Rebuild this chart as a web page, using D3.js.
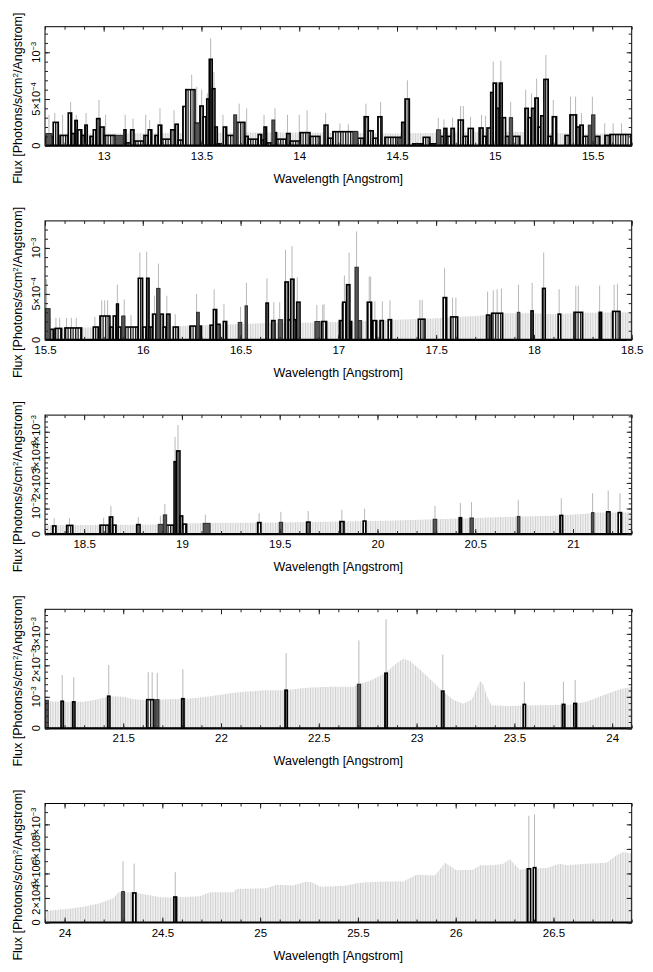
<!DOCTYPE html>
<html>
<head>
<meta charset="utf-8">
<script src="https://cdn.jsdelivr.net/npm/d3@7"></script>
<style>
body { margin: 0; background: #fff; }
svg { display: block; font-family: "Liberation Sans", Arial, Helvetica, sans-serif; }
</style>
</head>
<body>
<div id="chart"></div>
<script>
// flux values are in units of 1e-4 photons/s/cm2/Angstrom
// steps: [bin start wavelength, flux], each runs up to the next start
// dark: second spectrum [from, to, flux]; err: [wavelength, upper error]; env: upper-limit envelope

// ---- panel 1 (12.7 - 15.7)
const p1Env = [[12.7,1.3],[13.0,1.3],[13.5,1.35],[13.75,1.4],[14.0,1.4],[14.5,1.3],[14.8,1.4],[15.1,1.5],[15.4,1.3],[15.7,1.3]];
const p1Steps = [[12.700,1.0],[12.742,2.5],[12.768,0],[12.777,1.1],[12.819,3.5],[12.836,1.3],[12.853,2.7],[12.865,1.7],[12.888,1.1],[12.904,2.2],[12.916,0],[12.930,1.0],[12.947,1.7],[12.964,2.9],[12.981,2.0],[13.002,1.1],[13.058,0],[13.104,1.7],[13.114,0.3],[13.138,1.7],[13.155,0.5],[13.206,1.1],[13.228,1.7],[13.246,0],[13.262,1.1],[13.279,2.2],[13.297,0.7],[13.343,1.7],[13.365,2.3],[13.381,0.6],[13.405,4.2],[13.42,6.0],[13.467,2.4],[13.492,4.25],[13.509,3.1],[13.527,5.0],[13.540,9.25],[13.555,6.1],[13.569,2.0],[13.581,0.2],[13.595,0],[13.612,2.0],[13.629,1.1],[13.68,2.5],[13.722,1.0],[13.739,0.7],[13.79,1.2],[13.808,0.6],[13.82,2.0],[13.833,0.3],[13.867,1.4],[13.884,0.7],[13.936,1.3],[13.953,0.5],[14.004,1.4],[14.055,1.0],[14.106,0],[14.127,2.2],[14.147,0.8],[14.172,1.5],[14.295,0.8],[14.332,3.1],[14.353,1.6],[14.378,0.8],[14.402,3.1],[14.423,0],[14.438,0.9],[14.524,2.5],[14.541,5.0],[14.563,0],[14.58,0.2],[14.634,0.9],[14.668,0.2],[14.702,0],[14.723,1.0],[14.740,1.85],[14.755,1.0],[14.776,1.85],[14.793,0],[14.813,2.75],[14.839,1.0],[14.864,1.85],[14.890,0],[14.920,1.9],[14.94,1.0],[14.96,1.9],[14.979,5.7],[14.992,6.7],[15.009,4.0],[15.023,6.7],[15.038,3.0],[15.055,1.0],[15.074,0],[15.091,1.0],[15.128,0],[15.154,4.0],[15.171,3.0],[15.188,4.0],[15.205,5.1],[15.222,2.0],[15.235,3.2],[15.251,7.1],[15.273,1.0],[15.294,3.1],[15.316,0],[15.359,1.1],[15.384,3.3],[15.418,2.0],[15.435,2.2],[15.452,1.0],[15.478,0],[15.512,1.0],[15.537,0],[15.563,1.1],[15.589,1.2]];
const p1Dark = [[12.705,12.735,1.3],[13.06,13.10,1.1],[13.467,13.49,2.4],[13.665,13.68,3.3],[13.86,13.875,2.75],[14.275,14.30,1.5],[14.50,14.524,0.8],[14.702,14.723,1.7],[15.074,15.091,3.0],[15.478,15.495,2.2],[15.495,15.512,3.3]];
const p1Err = [[12.72,3.3],[12.75,3.5],[12.79,3.3],[12.831,4.7],[12.86,3.3],[12.91,3.5],[12.976,4.9],[13.01,3.3],[13.11,3.3],[13.15,2.9],[13.215,3.3],[13.235,2.75],[13.288,4.0],[13.36,3.8],[13.424,6.1],[13.45,7.6],[13.476,6.3],[13.501,6.0],[13.53,5.6],[13.547,11.5],[13.564,7.9],[13.61,3.3],[13.693,4.5],[13.731,4.0],[13.82,3.3],[13.876,4.0],[13.94,3.3],[14.0,3.3],[14.04,3.8],[14.135,3.5],[14.208,2.4],[14.251,2.3],[14.341,4.5],[14.416,4.7],[14.553,7.0],[14.711,3.0],[14.740,2.8],[14.784,3.0],[14.825,4.25],[14.839,4.25],[14.876,3.1],[14.932,3.3],[14.953,3.2],[14.992,9.0],[15.031,9.1],[15.081,4.7],[15.158,6.0],[15.188,5.6],[15.214,7.2],[15.261,9.7],[15.299,4.9],[15.387,5.25],[15.413,5.25],[15.443,3.5],[15.499,5.25],[15.562,2.4],[15.605,2.4],[15.648,2.4]];

// ---- panel 2 (15.5 - 18.5)
const p2Env = [[15.5,1.3],[15.75,1.35],[16.0,1.4],[16.2,1.5],[16.4,1.65],[16.6,1.8],[16.9,1.9],[17.1,2.0],[17.3,2.2],[17.5,2.35],[17.7,2.6],[17.85,2.9],[18.0,2.9],[18.1,2.8],[18.25,2.95],[18.5,3.0]];
const p2Steps = [[15.5,1.15],[15.543,0],[15.551,1.25],[15.585,0],[15.602,1.3],[15.687,0],[15.747,1.4],[15.773,0],[15.781,2.6],[15.832,1.4],[15.849,2.6],[15.866,3.9],[15.875,1.4],[15.892,0],[15.909,1.4],[15.977,6.7],[15.999,1.4],[16.020,6.7],[16.032,1.4],[16.050,2.8],[16.071,0],[16.088,2.8],[16.105,1.4],[16.122,2.8],[16.139,0],[16.156,1.4],[16.182,0],[16.241,1.5],[16.275,0],[16.289,1.5],[16.30,0],[16.344,1.6],[16.361,3.3],[16.378,1.7],[16.395,0],[16.412,2.0],[16.429,0],[16.630,4.0],[16.642,0],[16.659,2.1],[16.676,0],[16.727,6.3],[16.744,2.2],[16.756,6.6],[16.773,2.2],[16.787,4.1],[16.804,0],[16.915,2.0],[16.940,0],[17.005,2.1],[17.022,4.1],[17.042,6.0],[17.059,2.0],[17.068,0],[17.148,4.1],[17.170,0],[17.175,2.1],[17.196,0],[17.213,2.1],[17.230,0],[17.255,2.2],[17.272,0],[17.409,2.25],[17.443,0],[17.536,4.6],[17.554,0],[17.574,2.5],[17.610,0],[17.758,2.7],[17.775,0],[17.784,2.9],[17.840,0],[17.985,3.15],[17.996,0],[18.044,5.6],[18.058,0],[18.124,2.8],[18.137,0],[18.205,3.0],[18.249,0],[18.334,3.0],[18.346,0],[18.402,3.1],[18.440,0]];
const p2Dark = [[15.5,15.526,3.4],[15.892,15.909,2.6],[16.071,16.088,5.6],[16.275,16.289,3.0],[16.488,16.506,1.9],[16.523,16.535,3.7],[16.693,16.715,2.2],[16.880,16.906,2.0],[17.085,17.102,7.9],[17.102,17.119,2.1],[17.915,17.928,3.0]];
const p2Err = [[15.508,6.6],[15.526,2.4],[15.556,2.4],[15.575,2.4],[15.61,2.4],[15.635,2.4],[15.66,2.4],[15.755,2.5],[15.79,4.3],[15.805,4.3],[15.82,4.3],[15.87,6.0],[15.905,4.4],[15.94,2.7],[15.985,9.5],[16.02,9.6],[16.06,4.8],[16.08,8.3],[16.123,4.8],[16.166,2.8],[16.275,5.0],[16.365,5.5],[16.415,3.9],[16.5,3.6],[16.53,6.2],[16.635,6.7],[16.67,4.1],[16.70,4.1],[16.73,9.8],[16.763,10.2],[16.79,6.8],[16.89,3.8],[16.92,3.8],[16.927,3.9],[17.017,4.0],[17.031,7.0],[17.055,9.5],[17.093,11.8],[17.158,6.9],[17.165,6.9],[17.187,4.2],[17.225,4.2],[17.264,4.3],[17.417,4.35],[17.429,4.35],[17.543,7.8],[17.584,4.6],[17.601,4.6],[17.763,5.25],[17.792,5.4],[17.812,5.5],[17.834,5.6],[17.921,6.0],[17.991,6.2],[18.050,9.5],[18.129,5.5],[18.214,5.9],[18.227,5.9],[18.336,5.9],[18.410,6.0],[18.427,6.1]];

// ---- panel 3 (18.3 - 21.3)
const p3Env = [[18.3,3.5],[18.6,3.6],[18.9,3.8],[19.1,4.3],[19.5,4.5],[19.8,4.9],[20.0,5.1],[20.3,5.8],[20.5,6.3],[20.7,6.8],[20.9,7.2],[21.05,7.9],[21.12,8.4],[21.3,8.4]];
const p3Steps = [[18.339,3.2],[18.356,0],[18.411,3.4],[18.442,0],[18.581,3.5],[18.629,6.7],[18.646,3.5],[18.663,0],[18.769,3.7],[18.786,0],[18.888,3.5],[18.960,28.3],[18.973,32.5],[18.990,7.1],[19.004,3.9],[19.024,0],[19.387,4.5],[19.404,0],[19.638,4.7],[19.655,0],[19.808,4.9],[19.829,0],[19.927,5.1],[19.941,0],[20.418,6.4],[20.430,0],[20.933,7.3],[20.947,0],[21.172,8.7],[21.189,0],[21.231,8.4],[21.248,0]];
const p3Dark = [[18.879,18.905,3.8],[18.905,18.922,7.5],[19.109,19.144,4.2],[19.498,19.515,4.6],[20.285,20.303,5.8],[20.473,20.490,6.3],[20.715,20.728,6.9],[21.095,21.107,8.4]];
const p3Err = [[18.347,6.2],[18.425,6.2],[18.6,6.4],[18.637,11],[18.777,6.6],[18.89,7.1],[18.913,11.8],[18.965,38],[18.98,42.6],[19.12,7.6],[19.395,8.2],[19.506,8.7],[19.646,9.0],[19.818,9.5],[19.934,9.9],[20.294,11],[20.424,12.2],[20.481,12.5],[20.72,13.4],[20.94,14],[21.10,16],[21.18,17],[21.24,16]];

// ---- panel 4 (21.1 - 24.1)
const p4Env = [[21.1,8.6],[21.211,8.4],[21.296,8.4],[21.347,8.9],[21.398,9.6],[21.432,10.2],[21.5,10],[21.552,9.2],[21.637,8.9],[21.722,9.2],[21.824,9.4],[21.927,10],[22.029,11],[22.114,11.6],[22.233,12.1],[22.327,12.1],[22.438,12.9],[22.557,13.2],[22.677,13.2],[22.702,14],[22.762,15.1],[22.838,17.5],[22.898,20.7],[22.932,22.1],[22.966,21.4],[23.0,19.6],[23.051,16.7],[23.128,12.1],[23.188,9.1],[23.238,7.8],[23.281,9.1],[23.307,12.4],[23.324,15],[23.341,13.9],[23.358,10.5],[23.383,7.3],[23.46,7.1],[23.613,7.3],[23.784,7.5],[23.869,8.4],[23.954,10.5],[24.04,12.4],[24.1,13.2]];
const p4Steps = [[21.182,8.6],[21.194,0],[21.241,8.4],[21.253,0],[21.420,10.2],[21.432,0],[21.62,9.1],[21.657,0],[21.799,9.4],[21.811,0],[22.327,12.1],[22.339,0],[22.838,17.5],[22.850,0],[23.128,11.8],[23.140,0],[23.545,7.6],[23.557,0],[23.745,7.6],[23.758,0],[23.804,7.9],[23.818,0]];
const p4Dark = [[21.1,21.117,8.9],[21.666,21.683,9.1],[22.697,22.714,14]];
const p4Err = [[21.188,16.9],[21.247,16.2],[21.426,20.1],[21.628,17.8],[21.648,17.8],[21.674,17.6],[21.805,18.8],[22.333,23.9],[22.705,27.9],[22.844,34.6],[23.134,23.4],[23.551,14.8],[23.751,14.8],[23.811,15.3]];

// ---- panel 5 (23.9 - 26.9)
const p5Env = [[23.9,9.3],[23.917,9.6],[24.011,11],[24.096,12.9],[24.181,15.6],[24.249,19.7],[24.275,24.7],[24.335,24.7],[24.403,23.3],[24.488,20.5],[24.556,20.3],[24.692,21.4],[24.743,24.7],[24.862,24.7],[24.88,27.4],[25.033,27.9],[25.084,30.7],[25.169,30.1],[25.237,33.4],[25.263,32.9],[25.306,29.3],[25.357,29.3],[25.442,30.1],[25.493,32],[25.544,32.9],[25.647,33.4],[25.732,33.4],[25.8,38.9],[25.894,38.4],[25.945,48.8],[26.004,42.5],[26.089,43],[26.124,46.6],[26.192,46.6],[26.243,47.9],[26.277,51.5],[26.328,43],[26.371,43.8],[26.465,44.4],[26.533,47.9],[26.567,46.6],[26.669,47.9],[26.772,48.8],[26.823,54.8],[26.857,57.5],[26.9,56.2]];
const p5Steps = [[24.348,24.1],[24.365,0],[24.559,20.8],[24.573,0],[26.366,43.8],[26.383,0],[26.397,44.7],[26.410,0]];
const p5Dark = [[24.292,24.306,25.2]];
const p5Err = [[24.299,49.9],[24.356,48],[24.566,41],[26.374,87],[26.403,88]];

const xDomains = [[12.7,15.7],[15.5,18.5],[18.3,21.3],[21.1,24.1],[23.9,26.9]];
const yMaxes = [12.74, 12.94, 46.5, 37.8, 97];
const yMajors = [[0,5,10],[0,5,10],[0,10,20,30,40],[0,10,20,30],[0,20,40,60,80]];
const yMinorSteps = [1, 1, 2, 2, 10];

const panels = [
  {env: p1Env, steps: p1Steps, dark: p1Dark, err: p1Err},
  {env: p2Env, steps: p2Steps, dark: p2Dark, err: p2Err},
  {env: p3Env, steps: p3Steps, dark: p3Dark, err: p3Err},
  {env: p4Env, steps: p4Steps, dark: p4Dark, err: p4Err},
  {env: p5Env, steps: p5Steps, dark: p5Dark, err: p5Err}
];

const W = 653, H = 972;
const left = 45, plotW = 586.7, plotH = 119;

const svg = d3.select('#chart').append('svg')
  .attr('width', W)
  .attr('height', H);

const defs = svg.append('defs');

// light grey hatch for the upper-limit envelope (one line per bin)
const pe = defs.append('pattern').attr('id', 'envHatch')
  .attr('patternUnits', 'userSpaceOnUse').attr('width', 2.5).attr('height', 10);
pe.append('rect').attr('width', 2.5).attr('height', 10).attr('fill', '#f0f0f0');
pe.append('line').attr('x1', 0.5).attr('x2', 0.5).attr('y1', 0).attr('y2', 10)
  .attr('stroke', '#c6c6c6').attr('stroke-width', 0.8);

// bin edges inside the black histogram
const pb = defs.append('pattern').attr('id', 'binHatch')
  .attr('patternUnits', 'userSpaceOnUse').attr('width', 2.5).attr('height', 10);
pb.append('rect').attr('width', 2.5).attr('height', 10).attr('fill', '#fff');
pb.append('rect').attr('x', 0).attr('width', 1.3).attr('height', 10).attr('fill', '#111');

function fmt(v) {
  if (v === 0) return ['0'];
  if (v === 10) return ['10', '\u22123'];
  if (v < 10) return [v + '\u00d710', '\u22124'];
  return [(v / 10) + '\u00d710', '\u22123'];
}

panels.forEach((p, i) => {
  const top = 26.7 + i * 194.2;
  const xd = xDomains[i];
  const g = svg.append('g').attr('transform', `translate(${left},${top})`);

  const x = d3.scaleLinear().domain(xd).range([0, plotW]);
  const y = d3.scaleLinear().domain([0, yMaxes[i]]).range([plotH, 0]);

  defs.append('clipPath').attr('id', 'clip' + i)
    .append('rect').attr('width', plotW).attr('height', plotH);
  const plot = g.append('g').attr('clip-path', `url(#clip${i})`);

  // envelope
  plot.append('path')
    .datum(p.env)
    .attr('d', d3.area().x(d => x(d[0])).y0(y(0)).y1(d => y(d[1])))
    .attr('fill', 'url(#envHatch)');

  // error bars
  plot.append('g').selectAll('line')
    .data(p.err)
    .join('line')
    .attr('x1', d => x(d[0]))
    .attr('x2', d => x(d[0]))
    .attr('y1', y(0))
    .attr('y2', d => y(d[1]))
    .attr('stroke', '#b0b0b0')
    .attr('stroke-width', 0.9);

  // black histogram
  const segs = p.steps.map((d, k) => ({
    x0: d[0],
    x1: k < p.steps.length - 1 ? p.steps[k + 1][0] : xd[1],
    v: d[1]
  })).filter(d => d.v > 0);

  plot.append('g').selectAll('rect')
    .data(segs)
    .join('rect')
    .attr('x', d => x(d.x0))
    .attr('width', d => x(d.x1) - x(d.x0))
    .attr('y', d => y(d.v))
    .attr('height', d => y(0) - y(d.v))
    .attr('fill', 'url(#binHatch)')
    .attr('stroke', '#000')
    .attr('stroke-width', 1.6);

  // second spectrum, dark grey
  plot.append('g').selectAll('rect')
    .data(p.dark)
    .join('rect')
    .attr('x', d => x(d[0]))
    .attr('width', d => x(d[1]) - x(d[0]))
    .attr('y', d => y(d[2]))
    .attr('height', d => y(0) - y(d[2]))
    .attr('fill', '#555')
    .attr('stroke', '#2a2a2a')
    .attr('stroke-width', 1);

  // zero level of the histogram
  g.append('line')
    .attr('x1', 0).attr('x2', plotW)
    .attr('y1', y(0)).attr('y2', y(0))
    .attr('stroke', '#000').attr('stroke-width', 2.2);

  // frame
  g.append('rect')
    .attr('width', plotW).attr('height', plotH)
    .attr('fill', 'none').attr('stroke', '#000').attr('stroke-width', 1);

  // ticks
  const xMajor = d3.range(Math.ceil(xd[0] * 2 - 1e-6), Math.floor(xd[1] * 2 + 1e-6) + 1).map(v => v / 2);
  const xMinor = d3.range(Math.ceil(xd[0] * 10 - 1e-6), Math.floor(xd[1] * 10 + 1e-6) + 1).map(v => v / 10);
  const yMajor = yMajors[i];
  const yMinor = d3.range(0, yMaxes[i], yMinorSteps[i]);

  const tickStyle = sel => {
    sel.select('.domain').remove();
    sel.selectAll('.tick line').attr('stroke', '#222');
  };

  g.append('g').attr('transform', `translate(0,${plotH})`)
    .call(d3.axisBottom(x).tickValues(xMinor).tickSize(-3).tickFormat(''))
    .call(tickStyle);
  g.append('g').attr('transform', `translate(0,${plotH})`)
    .call(d3.axisBottom(x).tickValues(xMajor).tickSize(-5).tickPadding(6).tickFormat(d => String(d)))
    .call(tickStyle)
    .call(a => a.selectAll('text').attr('font-size', 11.5).attr('fill', '#000')
      .attr('font-family', '"Liberation Sans", Arial, sans-serif'));
  g.append('g')
    .call(d3.axisTop(x).tickValues(xMinor).tickSize(-3).tickFormat(''))
    .call(tickStyle);
  g.append('g')
    .call(d3.axisTop(x).tickValues(xMajor).tickSize(-5).tickFormat(''))
    .call(tickStyle);

  g.append('g')
    .call(d3.axisLeft(y).tickValues(yMinor).tickSize(-3).tickFormat(''))
    .call(tickStyle);
  g.append('g')
    .call(d3.axisLeft(y).tickValues(yMajor).tickSize(-5).tickFormat(''))
    .call(tickStyle);
  g.append('g').attr('transform', `translate(${plotW},0)`)
    .call(d3.axisRight(y).tickValues(yMinor).tickSize(-3).tickFormat(''))
    .call(tickStyle);
  g.append('g').attr('transform', `translate(${plotW},0)`)
    .call(d3.axisRight(y).tickValues(yMajor).tickSize(-5).tickFormat(''))
    .call(tickStyle);

  // y tick labels, rotated
  g.append('g').selectAll('text')
    .data(yMajor)
    .join('text')
    .attr('transform', d => `translate(-5,${y(d)}) rotate(-90)`)
    .attr('text-anchor', 'middle')
    .attr('font-size', 11)
    .each(function(d) {
      const t = d3.select(this);
      const parts = fmt(d);
      t.append('tspan').text(parts[0]);
      if (parts[1]) t.append('tspan').attr('dy', -4.5).attr('font-size', 7.5).text(parts[1]);
    });

  // axis titles
  g.append('text')
    .attr('x', plotW / 2)
    .attr('y', plotH + 37)
    .attr('text-anchor', 'middle')
    .attr('font-size', 12.5)
    .text('Wavelength [Angstrom]');

  const yt = g.append('text')
    .attr('transform', `translate(-23,${plotH / 2 + 12}) rotate(-90)`)
    .attr('text-anchor', 'middle')
    .attr('font-size', 12.5);
  yt.append('tspan').text('Flux [Photons/s/cm');
  yt.append('tspan').attr('dy', -4.5).attr('font-size', 8).text('2');
  yt.append('tspan').attr('dy', 4.5).text('/Angstrom]');
});
</script>
</body>
</html>
